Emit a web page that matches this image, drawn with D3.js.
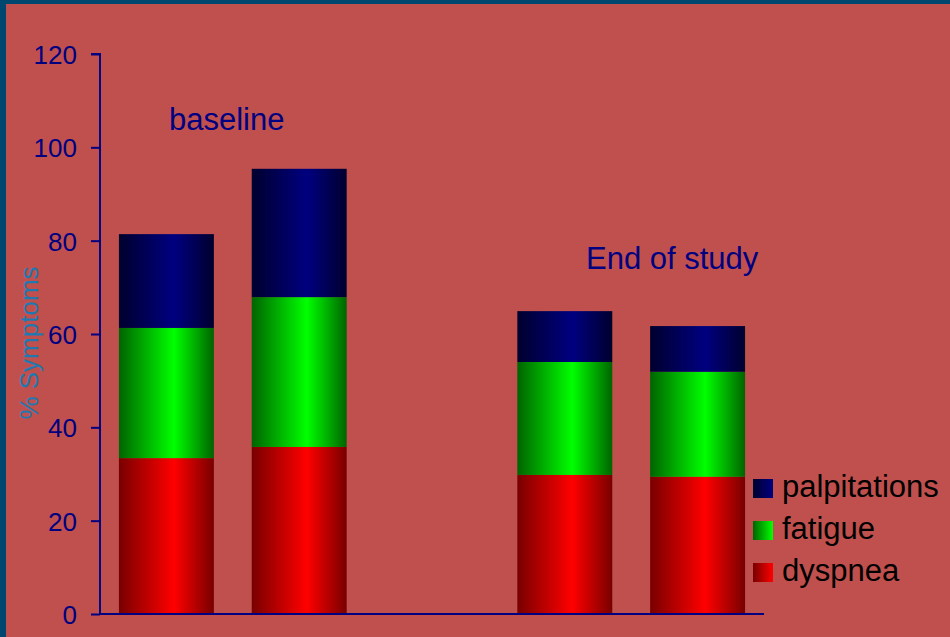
<!DOCTYPE html>
<html>
<head>
<meta charset="utf-8">
<script src="https://cdn.jsdelivr.net/npm/d3@7"></script>
<style>
  html, body { margin: 0; padding: 0; background: #C0504D; }
  svg { display: block; font-family: "Liberation Sans", Arial, sans-serif; }
</style>
</head>
<body>
<svg id="chart" width="950" height="637"></svg>
<script>
// Slots along the x axis; the middle slot is left empty as a gap between groups
const slots = ["b1", "b2", "gap", "e1", "e2"];
const barSlots = ["b1", "b2", "e1", "e2"];
const seriesNames = ["dyspnea", "fatigue", "palpitations"];
const dyspnea = [33.4, 35.8, 29.8, 29.4];
const fatigue = [27.9, 32.1, 24.2, 22.5];
const palpitations = [20.1, 27.5, 10.9, 9.8];
const yTicks = [0, 20, 40, 60, 80, 100, 120];
const legendOrder = ["palpitations", "fatigue", "dyspnea"];

const seriesValues = { dyspnea, fatigue, palpitations };
const rows = barSlots.map((s, i) => {
  const r = { slot: s };
  seriesNames.forEach(n => r[n] = seriesValues[n][i]);
  return r;
});

const svg = d3.select("#chart");
const W = 950, H = 637;

// Frame
svg.append("rect").attr("width", W).attr("height", H).attr("fill", "#C0504D");
svg.append("rect").attr("x", 0).attr("y", 0).attr("width", W).attr("height", 4).attr("fill", "#00476F");
svg.append("rect").attr("x", 0).attr("y", 0).attr("width", 6).attr("height", H).attr("fill", "#00476F");

const plot = { left: 100, right: 764, top: 54, bottom: 614 };

const x = d3.scaleBand().domain(slots).range([plot.left, plot.right]).padding(0);
const barW = x.bandwidth() * 0.715;
const y = d3.scaleLinear().domain([0, 120]).range([plot.bottom, plot.top]);

// Horizontal cylinder-style gradients
const defs = svg.append("defs");
const grads = {
  dyspnea: ["#780000", "#FF0000"],
  fatigue: ["#006400", "#00FF00"],
  palpitations: ["#00002E", "#000080"]
};
Object.entries(grads).forEach(([k, [edge, mid]]) => {
  const g = defs.append("linearGradient").attr("id", "g-" + k)
    .attr("x1", "0").attr("x2", "1").attr("y1", "0").attr("y2", "0");
  g.append("stop").attr("offset", "0%").attr("stop-color", edge);
  g.append("stop").attr("offset", "58%").attr("stop-color", mid);
  g.append("stop").attr("offset", "100%").attr("stop-color", edge);
  const l = defs.append("linearGradient").attr("id", "l-" + k)
    .attr("x1", "0").attr("x2", "1").attr("y1", "0").attr("y2", "0");
  l.append("stop").attr("offset", "0%").attr("stop-color", edge);
  l.append("stop").attr("offset", "100%").attr("stop-color", mid);
});

const stack = d3.stack().keys(seriesNames)(rows);
const layers = svg.append("g").selectAll("g").data(stack).join("g")
  .attr("fill", d => `url(#g-${d.key})`);
layers.selectAll("rect").data(d => d).join("rect")
  .attr("x", d => x(d.data.slot) + (x.bandwidth() - barW) / 2)
  .attr("width", barW)
  .attr("y", d => y(d[1]))
  .attr("height", d => y(d[0]) - y(d[1]));

// Y axis
const yAxis = svg.append("g").attr("transform", `translate(${plot.left},0)`)
  .call(d3.axisLeft(y).tickValues(yTicks).tickSize(9).tickPadding(14));
yAxis.select(".domain").attr("stroke", "#000080").attr("stroke-width", 2)
  .attr("d", `M-9,${plot.top}H0V${plot.bottom}`);
yAxis.selectAll(".tick line").attr("stroke", "#000080").attr("stroke-width", 2);
yAxis.selectAll(".tick text").attr("fill", "#000080")
  .style("font-size", "26px").style("font-family", "Liberation Sans, Arial, sans-serif")
  .attr("dy", "0.36em");

// X axis baseline
svg.append("line")
  .attr("x1", plot.left).attr("x2", plot.right)
  .attr("y1", y(0)).attr("y2", y(0))
  .attr("stroke", "#000080").attr("stroke-width", 2);

// Y axis title
svg.append("text")
  .attr("transform", `translate(38,${343}) rotate(-90)`)
  .attr("text-anchor", "middle")
  .attr("fill", "#1F78B0")
  .style("font-size", "26px")
  .text("% Symptoms");

// Group annotations
svg.append("text").attr("x", 169).attr("y", 130)
  .attr("fill", "#000080").style("font-size", "31px").text("baseline");
svg.append("text").attr("x", 586).attr("y", 269)
  .attr("fill", "#000080").style("font-size", "31px").text("End of study");

// Legend
const legend = svg.append("g").selectAll("g").data(legendOrder).join("g")
  .attr("transform", (d, i) => `translate(753,${479 + i * 42})`);
legend.append("rect").attr("width", 20).attr("height", 19)
  .attr("fill", d => `url(#l-${d})`);
legend.append("text").attr("x", 29).attr("y", 18)
  .attr("fill", "#000").style("font-size", "31px").text(d => d);
</script>
</body>
</html>
